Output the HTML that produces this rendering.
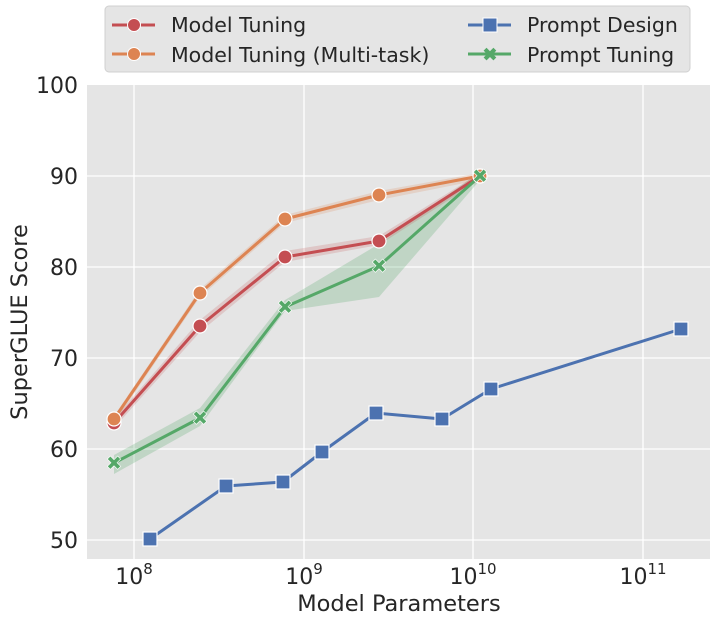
<!DOCTYPE html>
<html><head><style>body{margin:0;background:#fff}svg{display:block}</style></head><body>
<svg width="720" height="625" xmlns="http://www.w3.org/2000/svg" font-family="'DejaVu Sans','Liberation Sans',sans-serif">
<rect x="87" y="85" width="623" height="474" fill="#e5e5e5"/>
<g stroke="#fff" stroke-width="1.3">
<line x1="87" x2="710" y1="176" y2="176"/><line x1="87" x2="710" y1="267" y2="267"/><line x1="87" x2="710" y1="358" y2="358"/><line x1="87" x2="710" y1="449" y2="449"/><line x1="87" x2="710" y1="540" y2="540"/>
<line x1="134" x2="134" y1="85" y2="559"/><line x1="304" x2="304" y1="85" y2="559"/><line x1="473" x2="473" y1="85" y2="559"/><line x1="643" x2="643" y1="85" y2="559"/>
</g>
<g font-size="22" fill="#262626" text-anchor="end">
<text x="78" y="93">100</text><text x="78" y="184">90</text><text x="78" y="275">80</text><text x="78" y="366">70</text><text x="78" y="457">60</text><text x="78" y="548">50</text>
</g>
<g font-size="22" fill="#262626" text-anchor="middle">
<text x="134" y="584">10<tspan font-size="15" dy="-10">8</tspan></text>
<text x="304" y="584">10<tspan font-size="15" dy="-10">9</tspan></text>
<text x="473" y="584">10<tspan font-size="15" dy="-10">10</tspan></text>
<text x="643" y="584">10<tspan font-size="15" dy="-10">11</tspan></text>
</g>
<text x="399" y="611" font-size="22.5" fill="#262626" text-anchor="middle">Model Parameters</text>
<text transform="translate(27,322) rotate(-90)" font-size="22.5" fill="#262626" text-anchor="middle">SuperGLUE Score</text>
<!-- bands -->
<polygon points="114,455 200,408 285,300 379,244 480,172 480,180 379,297 285,311 200,426 114,474" fill="#55a868" opacity="0.25"/>
<polygon points="114,419 200,320 285,251 379,236 480,173 480,180 379,245 285,262 200,332 114,428" fill="#c44e52" opacity="0.2"/>
<polygon points="114,416 200,289 285,215 379,191 480,173 480,180 379,200 285,223 200,297 114,423" fill="#dd8452" opacity="0.2"/>
<g fill="none" stroke-width="3" stroke-linejoin="round">
<polyline points="114,423 200,326 285,257 379,241 480,176" stroke="#c44e52"/>
<polyline points="114,419 200,293 285,219 379,195 480,176" stroke="#dd8452"/>
<polyline points="114,463 200,418 285,307 379,266 480,176" stroke="#55a868"/>
<polyline points="150,539 226,486 283,482 322,452 376,413 442,419 491,389 681,329" stroke="#4c72b0"/>
</g>
<g fill="#c44e52" stroke="#fff" stroke-width="1.2">
<circle cx="114" cy="423" r="7"/><circle cx="200" cy="326" r="7"/><circle cx="285" cy="257" r="7"/><circle cx="379" cy="241" r="7"/><circle cx="480" cy="176" r="7"/>
</g>
<g fill="#dd8452" stroke="#fff" stroke-width="1.2">
<circle cx="114" cy="419" r="7"/><circle cx="200" cy="293" r="7"/><circle cx="285" cy="219" r="7"/><circle cx="379" cy="195" r="7"/><circle cx="480" cy="176" r="7"/>
</g>
<g fill="#4c72b0" stroke="#fff" stroke-width="1.2">
<rect x="143" y="532" width="14" height="14"/><rect x="219" y="479" width="14" height="14"/><rect x="276" y="475" width="14" height="14"/><rect x="315" y="445" width="14" height="14"/><rect x="369" y="406" width="14" height="14"/><rect x="435" y="412" width="14" height="14"/><rect x="484" y="382" width="14" height="14"/><rect x="674" y="322" width="14" height="14"/>
</g>
<g font-size="20" font-weight="bold" fill="#55a868" text-anchor="middle" stroke="#fff" stroke-width="0.6">
<text x="114" y="470">✖</text><text x="200" y="425">✖</text><text x="285" y="314">✖</text><text x="379" y="273">✖</text><text x="480" y="183">✖</text>
</g>
<!-- legend -->
<rect x="105" y="6" width="585" height="66" rx="4" fill="#e5e5e5" stroke="#d0d0d0"/>
<g stroke-width="3">
<line x1="112" x2="155" y1="25" y2="25" stroke="#c44e52"/><line x1="112" x2="155" y1="54" y2="54" stroke="#dd8452"/>
<line x1="468" x2="511" y1="25" y2="25" stroke="#4c72b0"/><line x1="468" x2="511" y1="54" y2="54" stroke="#55a868"/>
</g>
<circle cx="134" cy="25" r="6.5" fill="#c44e52" stroke="#fff"/>
<circle cx="134" cy="54" r="6.5" fill="#dd8452" stroke="#fff"/>
<rect x="483" y="18" width="14" height="14" fill="#4c72b0" stroke="#fff"/>
<text x="490" y="61" font-size="19" font-weight="bold" fill="#55a868" text-anchor="middle">✖</text>
<g font-size="20.5" fill="#262626">
<text x="171" y="32">Model Tuning</text><text x="171" y="62">Model Tuning (Multi-task)</text>
<text x="527" y="32">Prompt Design</text><text x="527" y="62">Prompt Tuning</text>
</g>
</svg>
</body></html>
